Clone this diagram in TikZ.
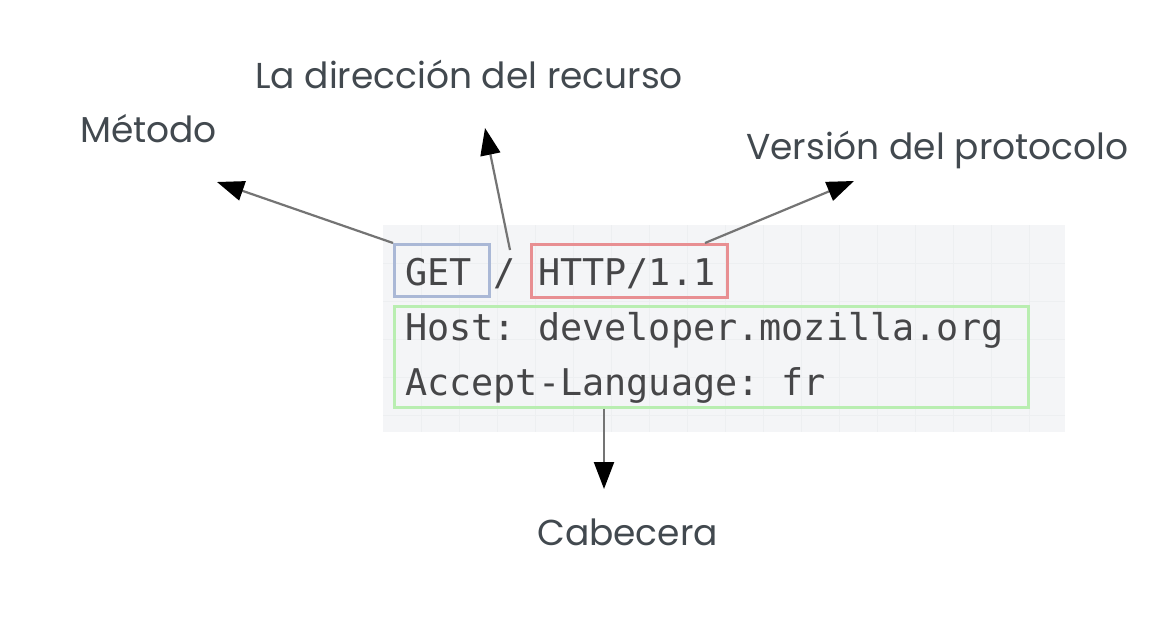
\documentclass[tikz,border=0pt]{standalone}
\usepackage{fontspec}
\setmainfont{Poppins}
\setmonofont{DejaVu Sans Mono}
\usetikzlibrary{arrows.meta}
\definecolor{panelc}{HTML}{F4F5F7}
\definecolor{gridc}{HTML}{EDEFF1}
\definecolor{bluec}{HTML}{AAB8D6}
\definecolor{redc}{HTML}{E88F92}
\definecolor{greenc}{HTML}{B9EEB1}
\definecolor{monoc}{HTML}{464648}
\definecolor{lblc}{HTML}{42494F}
\definecolor{arrc}{HTML}{747474}
\begin{document}
\begin{tikzpicture}[x=1pt,y=-1pt,
  hbox/.style={draw=#1, line width=2.6pt, rectangle, inner sep=0pt, anchor=north west},
  mono/.style={font=\ttfamily\fontsize{36.8}{44}\selectfont, text=monoc, inner sep=0pt, anchor=base west},
  lbl/.style={font=\fontsize{36}{42}\selectfont, text=lblc, inner sep=0pt, anchor=base west},
  arr/.style={draw=arrc, line width=2.2pt, -{Triangle[length=27pt,width=20pt,fill=black,color=black]}}]
\useasboundingbox (0,0) rectangle (1166,642);
\fill[white] (0,0) rectangle (1166,642);
% panel with faint grid
\node[fill=panelc, rectangle, inner sep=0pt, minimum width=682, minimum height=207, anchor=north west] (panel) at (383,225) {};
\foreach \gx in {421,459,...,1065} \draw[gridc, line width=0.7pt] (\gx,225) -- (\gx,432);
\foreach \gy in {263,301,...,432} \draw[gridc, line width=0.7pt] (383,\gy) -- (1065,\gy);
% boxes
\node[hbox=bluec, minimum width=95, minimum height=52] (get) at (393,243) {};
\node[hbox=redc, minimum width=196, minimum height=53] (http) at (530,243) {};
\node[hbox=greenc, minimum width=634, minimum height=101] (hdr) at (393,305) {};
% code text
\node[mono] (line1) at (405,285) {GET / HTTP/1.1};
\node[mono] (line2) at (405,340) {Host: developer.mozilla.org};
\node[mono] (line3) at (405,395) {Accept-Language: fr};
% labels
\node[lbl] (metodo) at (80,142) {Método};
\node[lbl] (dir) at (255,88) {La dirección del recurso};
\node[lbl] (ver) at (746,159) {Versión del protocolo};
\node[lbl] (cab) at (537,545) {Cabecera};
% connector end points
\coordinate (tipM) at (217,182);
\coordinate (slashTop) at (510,250);
\coordinate (tipD) at (485,128);
\coordinate (verStart) at (705,243);
\coordinate (tipV) at (854,181);
\coordinate (tipC) at (604,489);
% arrows
\draw[arr] (get.north west) -- (tipM);
\draw[arr] (slashTop) -- (tipD);
\draw[arr] (verStart) -- (tipV);
\draw[arr] (hdr.south -| tipC) -- (tipC);
\end{tikzpicture}
\end{document}
